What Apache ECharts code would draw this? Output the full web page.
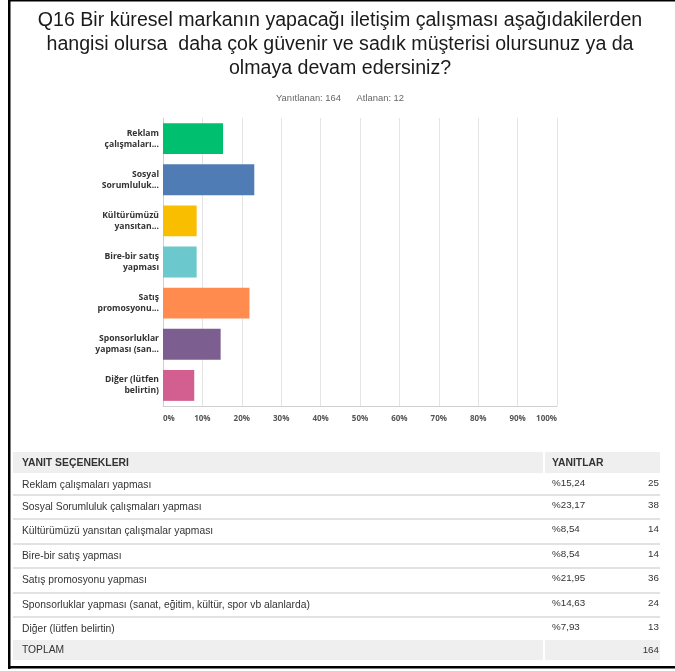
<!DOCTYPE html>
<html>
<head>
<meta charset="utf-8">
<style>
  html, body { margin: 0; padding: 0; background: #fff; }
  #chart { width: 675px; height: 671px; }
</style>
<script src="https://cdn.jsdelivr.net/npm/echarts@6/dist/echarts.min.js"></script>
</head>
<body>
<div id="chart"></div>
<script>
// Answer options as shown on the bar axis (shortened) and in the table (full text)
const axisLabels = [
  'Reklam\nçalışmaları...',
  'Sosyal\nSorumluluk...',
  'Kültürümüzü\nyansıtan...',
  'Bire-bir satış\nyapması',
  'Satış\npromosyonu...',
  'Sponsorluklar\nyapması (san...',
  'Diğer (lütfen\nbelirtin)'
];
const optionNames = [
  'Reklam çalışmaları yapması',
  'Sosyal Sorumluluk çalışmaları yapması',
  'Kültürümüzü yansıtan çalışmalar yapması',
  'Bire-bir satış yapması',
  'Satış promosyonu yapması',
  'Sponsorluklar yapması (sanat, eğitim, kültür, spor vb alanlarda)',
  'Diğer (lütfen belirtin)'
];
// Share of respondents (%) and response counts
const percents = [15.24, 23.17, 8.54, 8.54, 21.95, 14.63, 7.93];
const counts = [25, 38, 14, 14, 36, 24, 13];
const totalCount = 164;
const answered = 164;
const skipped = 12;
const barColors = ['#00BF6F', '#507CB6', '#F9BE00', '#6BC8CD', '#FF8B4F', '#7D5E90', '#D25F90'];

const chart = echarts.init(document.getElementById('chart'));

const fmtPct = v => '%' + v.toFixed(2).replace('.', ',');

// Table below the bars, laid out with graphic elements
const tableLeft = 13, tableRight = 660, colSplit = 543;
const rowTops = [473, 495, 519, 544, 568, 593, 617];
const rowBottom = 640;
const tableFont = '"Liberation Sans", Arial, sans-serif';
const nameFont = '10.3px ' + tableFont;
const valueFont = '9.8px ' + tableFont;
const headFont = 'bold 10.4px ' + tableFont;
const tableGraphics = [];

tableGraphics.push({
  type: 'rect', shape: { x: tableLeft, y: 452, width: tableRight - tableLeft, height: 21 },
  style: { fill: '#efefef' }, silent: true
});
tableGraphics.push({
  type: 'rect', shape: { x: colSplit, y: 452, width: 2, height: 21 },
  style: { fill: '#ffffff' }, silent: true
});
tableGraphics.push({
  type: 'text', x: 22, y: 463,
  style: { text: 'YANIT SEÇENEKLERI', font: headFont, fill: '#333', textVerticalAlign: 'middle' }
});
tableGraphics.push({
  type: 'text', x: 552, y: 463,
  style: { text: 'YANITLAR', font: headFont, fill: '#333', textVerticalAlign: 'middle' }
});

optionNames.forEach((name, i) => {
  const top = rowTops[i];
  const bottom = i < rowTops.length - 1 ? rowTops[i + 1] : rowBottom;
  if (i < rowTops.length - 1) {
    tableGraphics.push({
      type: 'rect', shape: { x: tableLeft, y: bottom - 1, width: tableRight - tableLeft, height: 2 },
      style: { fill: '#e2e2e2' }, silent: true
    });
  }
  tableGraphics.push({
    type: 'text', x: 22, y: top + 12,
    style: { text: name, font: nameFont, fill: '#333', textVerticalAlign: 'middle' }
  });
  tableGraphics.push({
    type: 'text', x: 552, y: top + 10,
    style: { text: fmtPct(percents[i]), font: valueFont, fill: '#333', textVerticalAlign: 'middle' }
  });
  tableGraphics.push({
    type: 'text', x: 659, y: top + 10,
    style: { text: String(counts[i]), font: valueFont, fill: '#333', textAlign: 'right', textVerticalAlign: 'middle' }
  });
});

tableGraphics.push({
  type: 'rect', shape: { x: tableLeft, y: rowBottom, width: tableRight - tableLeft, height: 20 },
  style: { fill: '#efefef' }, silent: true
});
tableGraphics.push({
  type: 'rect', shape: { x: colSplit, y: rowBottom, width: 2, height: 20 },
  style: { fill: '#ffffff' }, silent: true
});
tableGraphics.push({
  type: 'text', x: 22, y: 650,
  style: { text: 'TOPLAM', font: nameFont, fill: '#333', textVerticalAlign: 'middle' }
});
tableGraphics.push({
  type: 'text', x: 659, y: 650,
  style: { text: String(totalCount), font: valueFont, fill: '#333', textAlign: 'right', textVerticalAlign: 'middle' }
});

// Frame lines around the panel
const frame = [
  { type: 'rect', shape: { x: 8, y: 0, width: 2.5, height: 669 }, style: { fill: '#000' }, silent: true },
  { type: 'rect', shape: { x: 8, y: 0, width: 667, height: 1.5 }, style: { fill: '#000' }, silent: true },
  { type: 'rect', shape: { x: 8, y: 666, width: 667, height: 2.5 }, style: { fill: '#000' }, silent: true }
];

const option = {
  animation: false,
  backgroundColor: '#ffffff',
  title: [
    {
      text: 'Q16 Bir küresel markanın yapacağı iletişim çalışması aşağıdakilerden\nhangisi olursa  daha çok güvenir ve sadık müşterisi olursunuz ya da\nolmaya devam edersiniz?',
      left: 335, top: 4, textAlign: 'center',
      textStyle: { fontFamily: tableFont, fontSize: 19.6, fontWeight: 'normal', color: '#1a1a1a', lineHeight: 24 }
    },
    {
      text: 'Yanıtlanan: ' + answered + '      Atlanan: ' + skipped,
      left: 335, top: 89, textAlign: 'center',
      textStyle: { fontFamily: tableFont, fontSize: 9.4, fontWeight: 'normal', color: '#666' }
    }
  ],
  grid: { left: 163, right: 118, top: 118, bottom: 265, containLabel: false },
  xAxis: {
    type: 'value', min: 0, max: 100, interval: 10,
    axisLine: { show: true, lineStyle: { color: '#cfcfcf', width: 1 } },
    axisTick: { show: false },
    splitLine: { show: true, lineStyle: { color: '#e4e4e4', width: 1 } },
    axisLabel: {
      formatter: '{value}%', margin: 9, alignMinLabel: 'left', alignMaxLabel: 'right',
      fontFamily: '"Open Sans", sans-serif', fontSize: 8, fontWeight: 'bold', color: '#555'
    }
  },
  yAxis: {
    type: 'category', inverse: true, data: axisLabels,
    axisLine: { show: true, lineStyle: { color: '#cfcfcf', width: 1 } },
    axisTick: { show: false },
    axisLabel: {
      margin: 4, fontFamily: '"Open Sans", sans-serif', fontSize: 8.6, fontWeight: 'bold',
      color: '#333', lineHeight: 11, align: 'right'
    }
  },
  series: [{
    type: 'bar',
    data: percents.map((v, i) => ({ value: v, itemStyle: { color: barColors[i] } })),
    barCategoryGap: '25%',
    silent: true
  }],
  graphic: frame.concat(tableGraphics)
};

chart.setOption(option);
</script>
</body>
</html>
